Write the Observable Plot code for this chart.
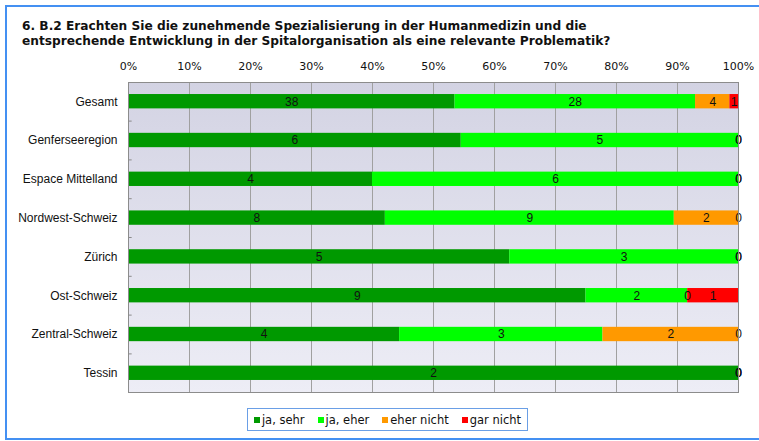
<!DOCTYPE html>
<html>
<head>
<meta charset="utf-8">
<script src="https://cdn.jsdelivr.net/npm/d3@7"></script>
<script src="https://cdn.jsdelivr.net/npm/@observablehq/plot@0.6"></script>
<style>
  body { margin: 0; background: #fff; }
  #wrap { position: relative; width: 759px; height: 441px; overflow: hidden; background: #fff; }
  #outer { position: absolute; left: 5px; top: 5px; width: 754px; height: 435px; box-sizing: border-box; border: 2px solid #4490f2; border-right: none; }
  #title { position: absolute; left: 22px; top: 19px; font-family: "DejaVu Sans", sans-serif; font-weight: bold; font-size: 12.2px; line-height: 14.5px; color: #111; white-space: nowrap; }
  #chart { position: absolute; left: 0; top: 0; }
  #legend { position: absolute; left: 247px; top: 408px; width: 281px; height: 23px; box-sizing: border-box; border: 1px solid #6a9fe6; display: flex; align-items: center; justify-content: center; gap: 13px; font-family: "DejaVu Sans", sans-serif; font-size: 11.5px; color: #111; }
  .item { display: flex; align-items: center; gap: 2px; }
  .sw { width: 6px; height: 6px; display: inline-block; }
</style>
</head>
<body>
<div id="wrap">
  <div id="outer"></div>
  <div id="chart"></div>
  <div id="title">6. B.2 Erachten Sie die zunehmende Spezialisierung in der Humanmedizin und die<br>entsprechende Entwicklung in der Spitalorganisation als eine relevante Problematik?</div>
  <div id="legend"></div>
</div>
<script>
const regions = ["Gesamt", "Genferseeregion", "Espace Mittelland", "Nordwest-Schweiz", "Zürich", "Ost-Schweiz", "Zentral-Schweiz", "Tessin"];
const series = ["ja, sehr", "ja, eher", "eher nicht", "gar nicht"];
const colors = ["#009900", "#00ff00", "#ff9900", "#ff0000"];
const jaSehr    = [38, 6, 4, 8, 5, 9, 4, 2];
const jaEher    = [28, 5, 6, 9, 3, 2, 3, 0];
const eherNicht = [ 4, 0, 0, 2, 0, 0, 2, 0];
const garNicht  = [ 1, 0, 0, 0, 0, 1, 0, 0];
const tickValues = [0, 0.1, 0.2, 0.3, 0.4, 0.5, 0.6, 0.7, 0.8, 0.9, 1];

const seriesValues = [jaSehr, jaEher, eherNicht, garNicht];
const data = [];
regions.forEach((r, i) => {
  series.forEach((s, j) => data.push({region: r, series: s, value: seriesValues[j][i]}));
});

const stackOpts = {x: "value", y: "region", z: "series", order: series, offset: "normalize"};

const plot = Plot.plot({
  width: 759,
  height: 441,
  marginLeft: 128,
  marginRight: 21,
  marginTop: 82,
  marginBottom: 49,
  style: {background: "transparent", overflow: "visible"},
  x: {domain: [0, 1]},
  y: {domain: regions, paddingInner: 0.63, paddingOuter: 0.31, round: false},
  color: {domain: series, range: colors},
  marks: [
    Plot.frame({fill: "url(#bgGrad)"}),
    Plot.ruleX(tickValues.slice(1, -1), {stroke: "#a0a0a0", strokeWidth: 1}),
    Plot.ruleY(regions.slice(1), {y: d => d, x1: 0, x2: 0.006, dy: -19.4, stroke: "#8a8a8a"}),
    Plot.barX(data, Plot.stackX({...stackOpts, fill: "series"})),
    Plot.text(data, Plot.stackX({...stackOpts, text: d => String(d.value), fill: "#111", fontSize: 12, fontFamily: "Liberation Sans, Arial, sans-serif"})),
    Plot.frame({stroke: "#8c8c8c"}),
    Plot.axisX({anchor: "top", ticks: tickValues, tickFormat: d => Math.round(d * 100) + "%", tickSize: 0, tickPadding: 12.5, label: null, fontSize: 11, fontFamily: "DejaVu Sans, sans-serif", fill: "#111"}),
    Plot.axisY({tickSize: 0, tickPadding: 11, label: null, fontSize: 12, fontFamily: "Liberation Sans, Arial, sans-serif", fill: "#111"})
  ]
});

const svg = d3.select(plot);
const defs = svg.insert("defs", ":first-child");
const grad = defs.append("linearGradient").attr("id", "bgGrad").attr("x1", 0).attr("y1", 0).attr("x2", 0).attr("y2", 1);
grad.append("stop").attr("offset", "0%").attr("stop-color", "#d3d3e3");
grad.append("stop").attr("offset", "100%").attr("stop-color", "#ededf6");

document.getElementById("chart").appendChild(plot);

const legend = d3.select("#legend");
series.forEach((s, i) => {
  const it = legend.append("div").attr("class", "item");
  it.append("span").attr("class", "sw").style("background", colors[i]);
  it.append("span").text(s);
});
</script>
</body>
</html>
